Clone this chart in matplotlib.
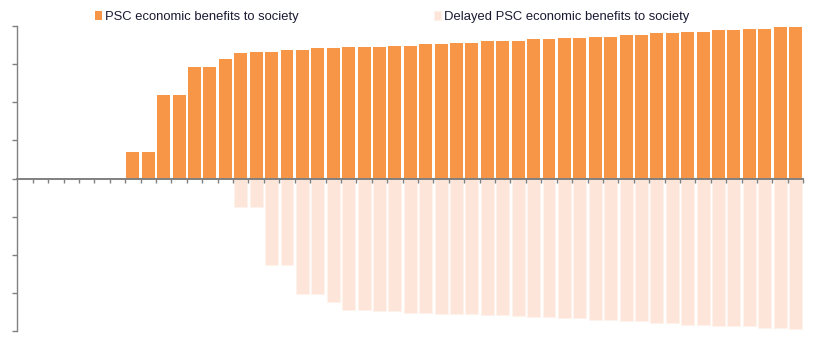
import matplotlib.pyplot as plt
import numpy as np

plt.rcParams['font.family'] = ['Liberation Sans', 'DejaVu Sans']

# values (one bar per year, 51 years)
psc_benefits = [0, 0, 0, 0, 0, 0, 0,
                0.70, 0.70, 2.19, 2.19, 2.92, 2.92, 3.13, 3.29, 3.32, 3.32,
                3.37, 3.37, 3.42, 3.42, 3.45, 3.45, 3.45, 3.47, 3.47,
                3.52, 3.52, 3.55, 3.55, 3.60, 3.60, 3.60, 3.66, 3.66,
                3.68, 3.68, 3.71, 3.71, 3.76, 3.76, 3.81, 3.81, 3.84, 3.84,
                3.89, 3.89, 3.92, 3.92, 3.97, 3.97]
delayed_benefits = [0] * 14 + [
                -0.74, -0.74, -2.28, -2.28, -3.03, -3.03, -3.24,
                -3.45, -3.45, -3.48, -3.48, -3.52, -3.52, -3.55, -3.55, -3.55,
                -3.59, -3.59, -3.61, -3.63, -3.63, -3.67, -3.67, -3.71, -3.71,
                -3.74, -3.74, -3.80, -3.80, -3.84, -3.84, -3.87, -3.87, -3.87,
                -3.91, -3.91, -3.94]
labels = ['PSC economic benefits to society',
          'Delayed PSC economic benefits to society']

x = np.arange(len(psc_benefits))

fig = plt.figure(figsize=(8.18, 3.41), dpi=100)
ax = fig.add_axes([17.3 / 818, 1 - 331 / 341, (803.3 - 17.3) / 818, (331 - 26) / 341])

b1 = ax.bar(x, psc_benefits, width=0.84, color='#F79646', label=labels[0])
b2 = ax.bar(x, delayed_benefits, width=0.84, color='#FDE5D9',
            edgecolor='#FEF2EC', linewidth=0.8, label=labels[1])

ax.set_xlim(-0.5, len(x) - 0.5)
ax.set_ylim(-4, 4)
ax.set_yticks(np.arange(-4, 5, 1))
ax.set_yticklabels([])
ax.set_xticks(np.arange(0.5, len(x), 1))
ax.set_xticklabels([])

for s in ['top', 'right']:
    ax.spines[s].set_visible(False)
ax.spines['left'].set_color('#808080')
ax.spines['left'].set_linewidth(1.0)
ax.spines['bottom'].set_position(('data', 0))
ax.spines['bottom'].set_color('#808080')
ax.spines['bottom'].set_linewidth(1.4)
ax.spines['bottom'].set_zorder(3)
ax.tick_params(axis='y', direction='out', length=3.5, width=1.0, color='#808080')
ax.tick_params(axis='x', direction='out', length=3.0, width=1.0, color='#808080')

fig.legend(handles=[b1, b2], labels=labels, loc='center left',
           bbox_to_anchor=(95 / 818, 1 - 17 / 341), ncol=2, frameon=False,
           fontsize=9.4, handlelength=0.55, handleheight=0.7, handletextpad=0.2,
           columnspacing=10.4, borderpad=0, borderaxespad=0,
           labelcolor='#1a1a33')

fig.savefig('out.png', dpi=100)
